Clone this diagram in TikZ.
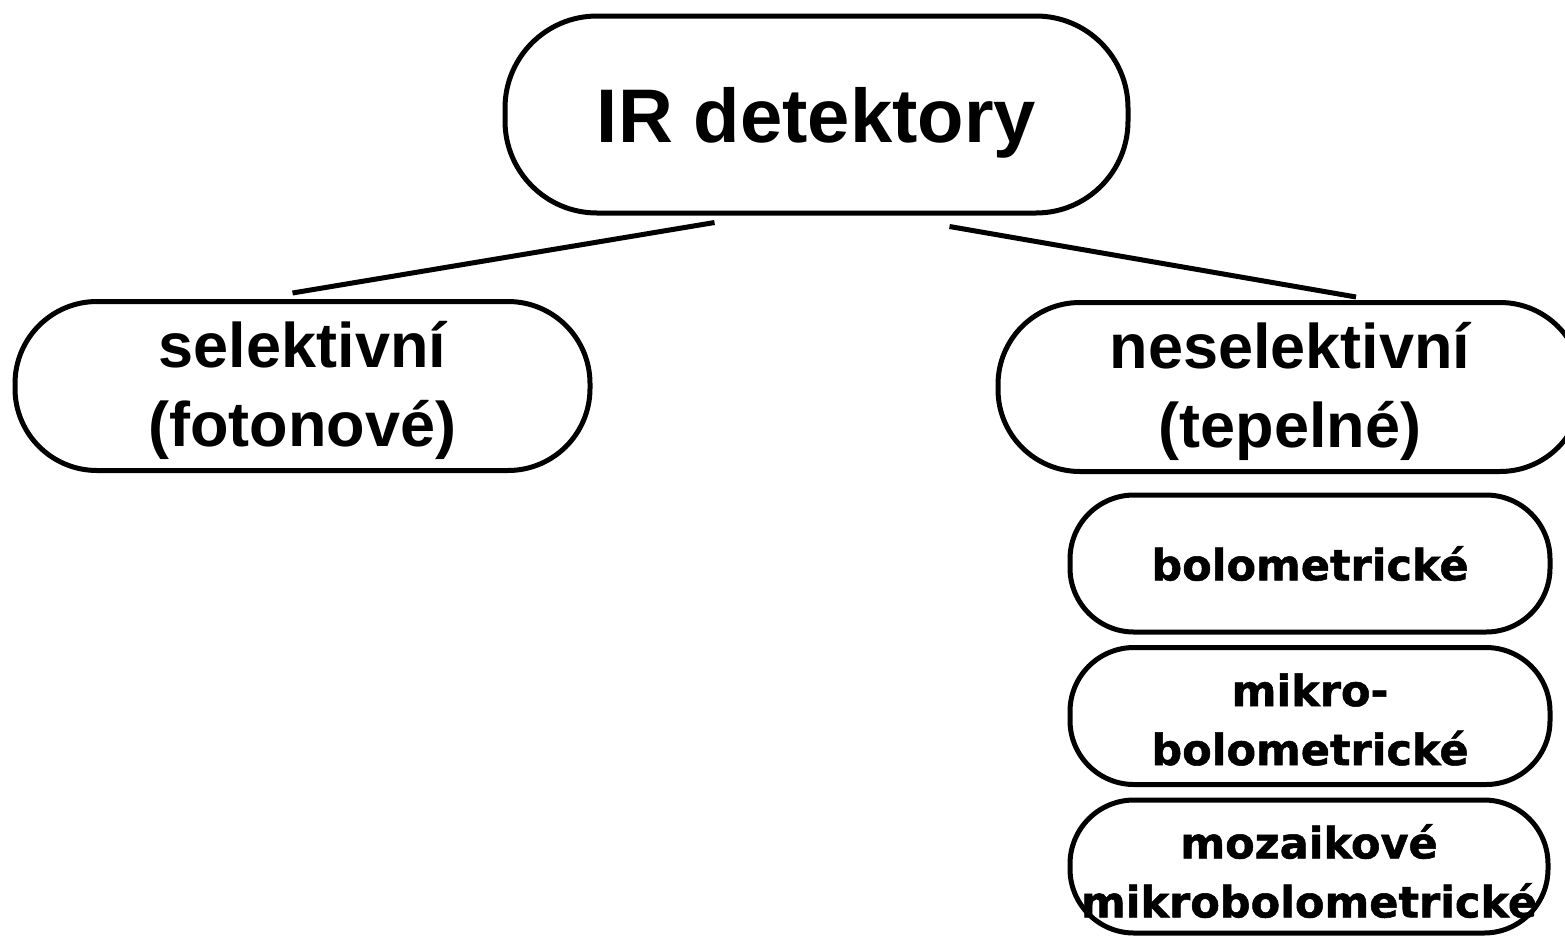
\documentclass[tikz,border=0pt]{standalone}
\usepackage{fontspec}
\setmainfont{Liberation Sans}
\newfontfamily\dvfont[FakeBold=1.2]{DejaVu Sans}
\begin{document}
\begin{tikzpicture}[x=1pt,y=-1pt,
  box/.style={draw=black, line width=5pt, rectangle, inner sep=0pt, align=center},
  topbox/.style={box, rounded corners=92pt, minimum width=623pt, minimum height=197pt,
    text depth=0pt, font=\bfseries\fontsize{76}{90}\selectfont},
  midbox/.style={box, rounded corners=82pt, minimum height=169pt},
  midtext/.style={inner sep=0pt, align=center, font=\bfseries\fontsize{63}{79}\selectfont},
  smallbox/.style={box, rounded corners=64pt, minimum width=480pt, minimum height=137pt},
  smalltext/.style={inner sep=0pt, align=center, font=\dvfont\bfseries\fontsize{43}{59}\selectfont},
  conn/.style={line width=5pt}]
\useasboundingbox (0,0) rectangle (1565,935);
\clip (0,0) rectangle (1565,935);
\node[topbox] (ir) at (816.5,114.5) {IR detektory};
\node[midbox, minimum width=575pt] (sel) at (302.5,386) {};
\node[midtext] (selt) at ([yshift=-4pt]sel.center) {selektivní\\(fotonové)};
\node[midbox, minimum width=584pt] (nes) at (1290,387) {};
\node[midtext] (nest) at ([yshift=-4pt]nes.center) {neselektivní\\(tepelné)};
\node[smallbox] (bol) at (1310,563.5) {};
\node[smalltext] (bolt) at (bol.center) {bolometrické};
\node[smallbox] (mik) at (1310,716) {};
\node[smalltext] (mikt) at ([yshift=-3.5pt]mik.center) {mikro-\\bolometrické};
\node[smallbox, minimum height=133pt, minimum width=478pt] (moz) at (1309,866.5) {};
\node[smalltext] (mozt) at ([yshift=-4.5pt]moz.center) {mozaikové\\mikrobolometrické};
\draw[conn] ([shift={(-102,7)}]ir.south) -- ([shift={(-10,-6)}]sel.north);
\draw[conn] ([shift={(133,11)}]ir.south) -- ([shift={(66,-3)}]nes.north);
\end{tikzpicture}
\end{document}
